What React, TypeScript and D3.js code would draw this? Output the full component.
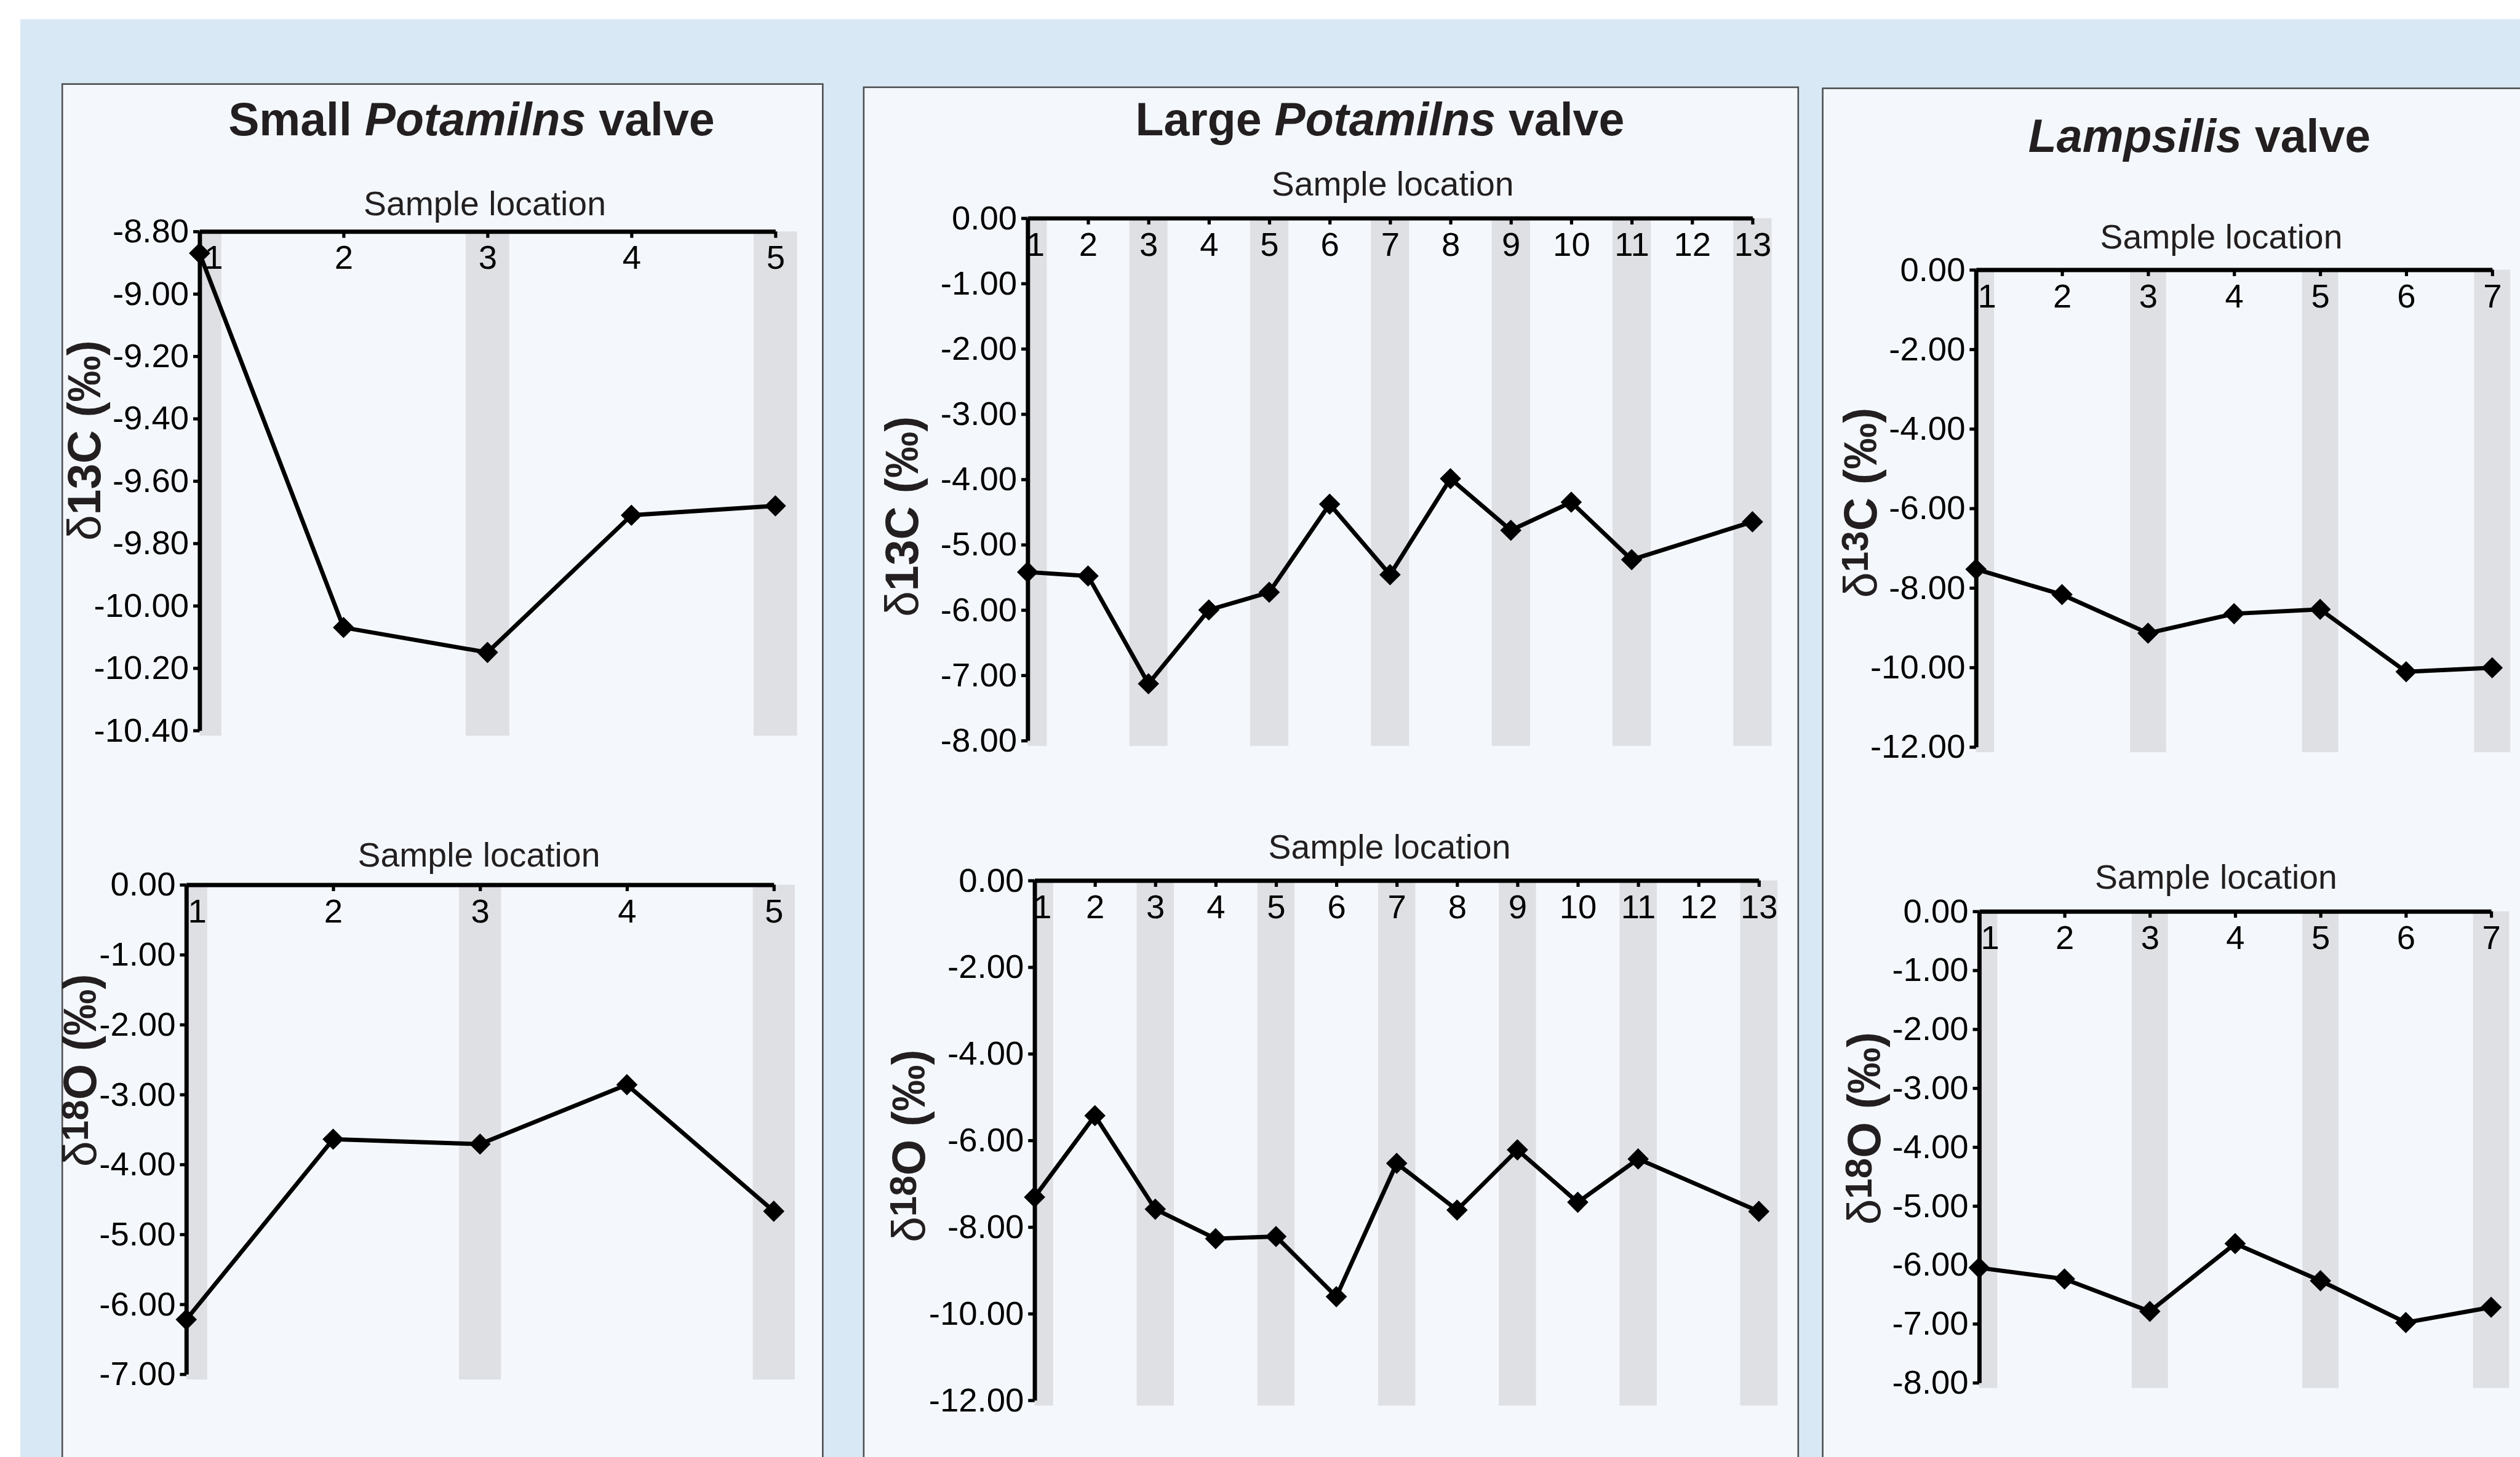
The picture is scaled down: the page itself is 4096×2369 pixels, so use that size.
import React, { useEffect, useRef } from 'react';
import * as d3 from 'd3';

// drawn at 0.865 of the reference size
const S = 0.865;
const W = 4096;
const H = 2369;

// sample locations
const smallLocations = [1, 2, 3, 4, 5];
const largeLocations = [1, 2, 3, 4, 5, 6, 7, 8, 9, 10, 11, 12, 13];
const lampLocations = [1, 2, 3, 4, 5, 6, 7];

// isotope values (per mil); null = no sample
const smallC13 = [-8.87, -10.07, -10.15, -9.71, -9.68];
const smallO18 = [-6.22, -3.64, -3.71, -2.86, -4.67];
const largeC13 = [-5.42, -5.48, -7.13, -6.0, -5.73, -4.38, -5.46, -3.99, -4.78, -4.35, -5.23, null, -4.65];
const largeO18 = [-7.31, -5.43, -7.59, -8.27, -8.22, -9.61, -6.53, -7.61, -6.22, -7.43, -6.43, null, -7.64];
const lampC13 = [-7.53, -8.17, -9.14, -8.65, -8.54, -10.11, -10.01];
const lampO18 = [-6.05, -6.24, -6.79, -5.64, -6.27, -6.98, -6.72];

// y tick values
const smallC13Ticks = [-8.8, -9.0, -9.2, -9.4, -9.6, -9.8, -10.0, -10.2, -10.4];
const smallO18Ticks = [0, -1, -2, -3, -4, -5, -6, -7];
const largeC13Ticks = [0, -1, -2, -3, -4, -5, -6, -7, -8];
const largeO18Ticks = [0, -2, -4, -6, -8, -10, -12];
const lampC13Ticks = [0, -2, -4, -6, -8, -10, -12];
const lampO18Ticks = [0, -1, -2, -3, -4, -5, -6, -7, -8];

const FONT = '"Liberation Sans", Arial, Helvetica, sans-serif';
const fmt = d3.formatLocale({ decimal: '.', thousands: ',', grouping: [3], currency: ['', ''], minus: '-' }).format('.2f');

// panel boxes (reference pixels)
const panels = [
  { x: 117, y: 158, w: 1429, title: ['Small ', 'Potamilns', ' valve'], tx: 886, ty: 254 },
  { x: 1623, y: 164, w: 1756, title: ['Large ', 'Potamilns', ' valve'], tx: 2593, ty: 254 },
  { x: 3425, y: 166, w: 1400, title: ['', 'Lampsilis', ' valve'], tx: 4133, ty: 285 },
];

// chart layouts (reference pixels)
const charts = [
  { loc: smallLocations, vals: smallC13, ticks: smallC13Ticks, iso: 'C', num: '13', sup: false,
    x0: 375, x1: 1457, yTop: 435, yBot: 1373, band: 82, sx: 911, sy: 405, lx: 158, ly: 828, d1: 26 },
  { loc: smallLocations, vals: smallO18, ticks: smallO18Ticks, iso: 'O', num: '18', sup: true,
    x0: 350, x1: 1454, yTop: 1663, yBot: 2583, band: 79, sx: 900, sy: 1629, lx: 150, ly: 2012, d1: 20 },
  { loc: largeLocations, vals: largeC13, ticks: largeC13Ticks, iso: 'C', num: '13', sup: false,
    x0: 1931, x1: 3293, yTop: 410, yBot: 1392, band: 72, sx: 2617, sy: 368, lx: 1694, ly: 971, d1: 14 },
  { loc: largeLocations, vals: largeO18, ticks: largeO18Ticks, iso: 'O', num: '18', sup: true,
    x0: 1944, x1: 3305, yTop: 1655, yBot: 2632, band: 70, sx: 2611, sy: 1614, lx: 1707, ly: 2154, d1: 14 },
  { loc: lampLocations, vals: lampC13, ticks: lampC13Ticks, iso: 'C', num: '13', sup: true,
    x0: 3713, x1: 4683, yTop: 507, yBot: 1404, band: 68, sx: 4174, sy: 467, lx: 3495, ly: 945, d1: 20 },
  { loc: lampLocations, vals: lampO18, ticks: lampO18Ticks, iso: 'O', num: '18', sup: true,
    x0: 3719, x1: 4681, yTop: 1713, yBot: 2599, band: 68, sx: 4164, sy: 1670, lx: 3502, ly: 2121, d1: 20 },
];

const drawChart = (svg, c) => {
  const g = svg.append('g');
  const x = d3.scalePoint().domain(c.loc.map(String)).range([c.x0 * S, c.x1 * S]);
  const y = d3.scaleLinear().domain(d3.extent(c.ticks)).range([c.yBot * S, c.yTop * S]);
  const bw = c.band * S;
  const left = c.x0 * S;

  // grey bands on odd locations
  g.selectAll('rect.band')
    .data(c.loc.filter((d, i) => i % 2 === 0))
    .join('rect')
    .attr('class', 'band')
    .attr('x', d => Math.max(x(String(d)) - bw / 2, left))
    .attr('width', d => x(String(d)) + bw / 2 - Math.max(x(String(d)) - bw / 2, left))
    .attr('y', c.yTop * S)
    .attr('height', (c.yBot - c.yTop + 10) * S)
    .attr('fill', '#dfe0e4');

  // x axis on top, ticks and labels below the line
  const xa = g.append('g')
    .attr('transform', `translate(0,${c.yTop * S})`)
    .call(d3.axisBottom(x).tickSize(12 * S).tickSizeOuter(0).tickPadding(14 * S));
  xa.attr('font-size', 63 * S).attr('font-family', FONT);
  xa.select('.domain').attr('stroke', '#000').attr('stroke-width', 8 * S);
  xa.selectAll('.tick line').attr('stroke', '#000').attr('stroke-width', 6 * S);
  xa.selectAll('.tick text').attr('fill', '#000').attr('dx', (d, i) => (i === 0 ? c.d1 * S : 0));

  // y axis
  const ya = g.append('g')
    .attr('transform', `translate(${left},0)`)
    .call(d3.axisLeft(y).tickValues(c.ticks).tickFormat(fmt).tickSize(12 * S).tickSizeOuter(0).tickPadding(8 * S));
  ya.attr('font-size', 63 * S).attr('font-family', FONT);
  ya.select('.domain').attr('stroke', '#000').attr('stroke-width', 8 * S);
  ya.selectAll('.tick line').attr('stroke', '#000').attr('stroke-width', 6 * S);
  ya.selectAll('.tick text').attr('fill', '#000');

  const pts = c.loc.map((d, i) => ({ loc: String(d), v: c.vals[i] })).filter(p => p.v !== null);

  const line = d3.line().x(p => x(p.loc)).y(p => y(p.v));
  g.append('path')
    .datum(pts)
    .attr('fill', 'none')
    .attr('stroke', '#000')
    .attr('stroke-width', 8 * S)
    .attr('d', line);

  const r = 20 * S;
  g.selectAll('path.pt')
    .data(pts)
    .join('path')
    .attr('class', 'pt')
    .attr('transform', p => `translate(${x(p.loc)},${y(p.v)})`)
    .attr('d', d3.symbol().type(d3.symbolDiamond2).size((r / 0.62625) ** 2)())
    .attr('fill', '#000');

  // axis titles
  g.append('text')
    .attr('x', c.sx * S)
    .attr('y', c.sy * S)
    .attr('text-anchor', 'middle')
    .attr('font-family', FONT)
    .attr('font-size', 64 * S)
    .attr('fill', '#231f20')
    .text('Sample location');

  const fs = 87 * S;
  const yl = g.append('text')
    .attr('transform', `translate(${c.lx * S},${c.ly * S}) rotate(-90)`)
    .attr('text-anchor', 'middle')
    .attr('dy', '0.35em')
    .attr('font-family', FONT)
    .attr('font-size', fs)
    .attr('font-weight', 'bold')
    .attr('fill', '#231f20');
  yl.append('tspan').attr('font-weight', 'normal').text('δ');
  if (c.sup) {
    yl.append('tspan').attr('font-size', fs * 0.8).attr('dy', -fs * 0.18).text(c.num);
    yl.append('tspan').attr('dy', fs * 0.18).text(`${c.iso} (‰)`);
  } else {
    yl.append('tspan').text(`${c.num}${c.iso} (‰)`);
  }
};

const App = () => {
  const svgRef = useRef();

  useEffect(() => {
    const svg = d3.select(svgRef.current);
    svg.selectAll('*').remove();

    svg.append('rect').attr('width', W).attr('height', H).attr('fill', '#ffffff');
    svg.append('rect')
      .attr('x', 38 * S).attr('y', 36 * S)
      .attr('width', W - 38 * S).attr('height', H - 36 * S)
      .attr('fill', '#d9e8f5');

    // panels
    panels.forEach(p => {
      svg.append('rect')
        .attr('x', p.x * S).attr('y', p.y * S)
        .attr('width', p.w * S).attr('height', (2800 - p.y) * S)
        .attr('fill', '#f4f8fc')
        .attr('stroke', '#4d4e50')
        .attr('stroke-width', 3 * S);
      const t = svg.append('text')
        .attr('x', p.tx * S).attr('y', p.ty * S)
        .attr('text-anchor', 'middle')
        .attr('font-family', FONT)
        .attr('font-size', 87 * S)
        .attr('font-weight', 'bold')
        .attr('fill', '#231f20');
      if (p.title[0]) t.append('tspan').text(p.title[0]);
      t.append('tspan').attr('font-style', 'italic').text(p.title[1]);
      t.append('tspan').text(p.title[2]);
    });

    charts.forEach(c => drawChart(svg, c));
  }, []);

  return (
    <svg
      ref={svgRef}
      width={W}
      height={H}
      style={{ position: 'absolute', left: 0, top: 0, display: 'block' }}
    />
  );
};

export default App;
